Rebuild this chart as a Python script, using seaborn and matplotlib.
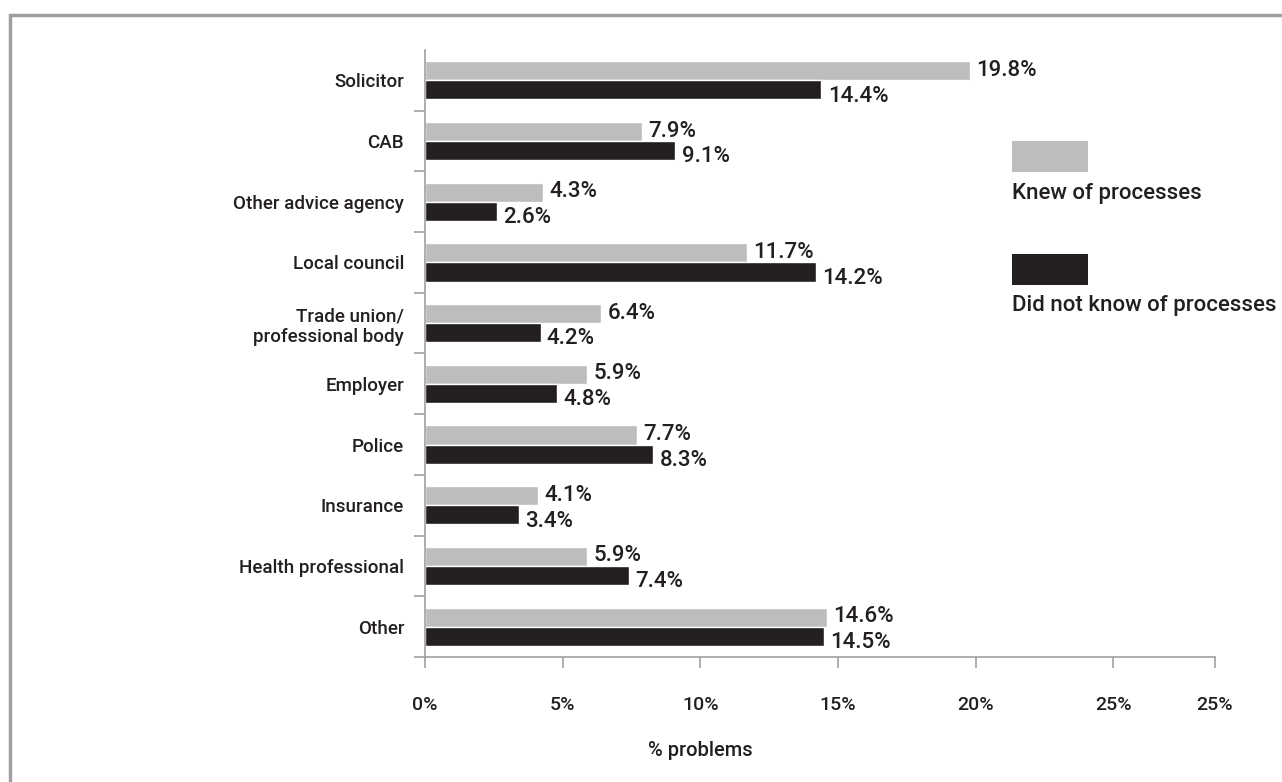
import matplotlib
matplotlib.use("Agg")
import matplotlib.pyplot as plt
from matplotlib.patches import Rectangle
import pandas as pd
import seaborn as sns

categories = ["Solicitor", "CAB", "Other advice agency", "Local council",
              "Trade union/\nprofessional body", "Employer", "Police",
              "Insurance", "Health professional", "Other"]
knew = [19.8, 7.9, 4.3, 11.7, 6.4, 5.9, 7.7, 4.1, 5.9, 14.6]
did_not_know = [14.4, 9.1, 2.6, 14.2, 4.2, 4.8, 8.3, 3.4, 7.4, 14.5]
series_names = ["Knew of processes", "Did not know of processes"]
tick_values = [0, 5, 10, 15, 20, 25, 28.7]
tick_labels = ["0%", "5%", "10%", "15%", "20%", "25%", "25%"]

GREY = "#BDBDBF"
BLACK = "#231F20"
TEXT = "#231F20"
AXIS = "#A0A0A2"
WEIGHT = "medium"

df = pd.DataFrame({
    "category": categories * 2,
    "value": knew + did_not_know,
    "series": [series_names[0]] * len(categories) + [series_names[1]] * len(categories),
})

sns.set_theme(style="white")
plt.rcParams["font.family"] = ["Roboto", "DejaVu Sans"]

fig = plt.figure(figsize=(12.82, 7.82), dpi=100)
ax = fig.add_axes([425 / 1282, 1 - 657 / 782, (1215 - 425) / 1282, (657 - 50) / 782])

sns.barplot(data=df, y="category", x="value", hue="series", orient="h",
            palette=[GREY, BLACK], order=categories, hue_order=series_names,
            width=0.63, saturation=1, ax=ax, legend=False)

ax.set_xlim(0, tick_values[-1])
ax.set_ylim(len(categories) - 0.5, -0.5)
ax.set_xticks(tick_values)
ax.set_xticklabels(tick_labels, fontsize=14, color=TEXT, fontweight=WEIGHT)
ax.tick_params(axis="x", bottom=True, direction="out", length=8, width=1.2,
               color=AXIS, pad=20)
ax.set_yticks(range(len(categories)))
ax.set_yticklabels(categories, fontsize=13.5, color=TEXT, fontweight=WEIGHT,
                   linespacing=1.2)
ax.tick_params(axis="y", which="major", left=False, length=0, pad=15)
ax.set_yticks([i + 0.5 for i in range(len(categories))], minor=True)
ax.tick_params(axis="y", which="minor", left=True, direction="out", length=8,
               width=1.2, color=AXIS)
ax.set_xlabel("")
ax.set_ylabel("")

for side in ["top", "right"]:
    ax.spines[side].set_visible(False)
for side in ["left", "bottom"]:
    ax.spines[side].set_color(AXIS)
    ax.spines[side].set_linewidth(1.2)

# value labels beside each bar end, black ones sitting slightly low
for container, dy in zip(ax.containers, [0.3, -4.5]):
    for bar in container:
        w = bar.get_width()
        ax.annotate(f"{w:.1f}%", (w, bar.get_y() + bar.get_height() / 2),
                    xytext=(4.5, dy), textcoords="offset points",
                    ha="left", va="center", fontsize=16, color=TEXT,
                    fontweight=WEIGHT)

fig.text(700 / 1282, 1 - 750 / 782, "% problems", ha="center", va="center",
         fontsize=14.5, color=TEXT, fontweight=WEIGHT)

# legend drawn as swatches stacked above their captions
for (y_top, color, name) in [(141, GREY, series_names[0]), (254, BLACK, series_names[1])]:
    fig.patches.append(Rectangle((1012 / 1282, 1 - (y_top + 31) / 782), 76 / 1282, 31 / 782,
                                 transform=fig.transFigure, facecolor=color, edgecolor="none"))
    fig.text(1012 / 1282, 1 - (y_top + 52) / 782, name, ha="left", va="center",
             fontsize=16, color=TEXT, fontweight=WEIGHT)

# outer frame
fig.patches.append(Rectangle((10 / 1282, -0.05), 1.1, 1 - 15 / 782 + 0.05,
                             transform=fig.transFigure, facecolor="none",
                             edgecolor="#A0A0A2", linewidth=2.5, clip_on=False))

fig.savefig("out.png", dpi=100)
